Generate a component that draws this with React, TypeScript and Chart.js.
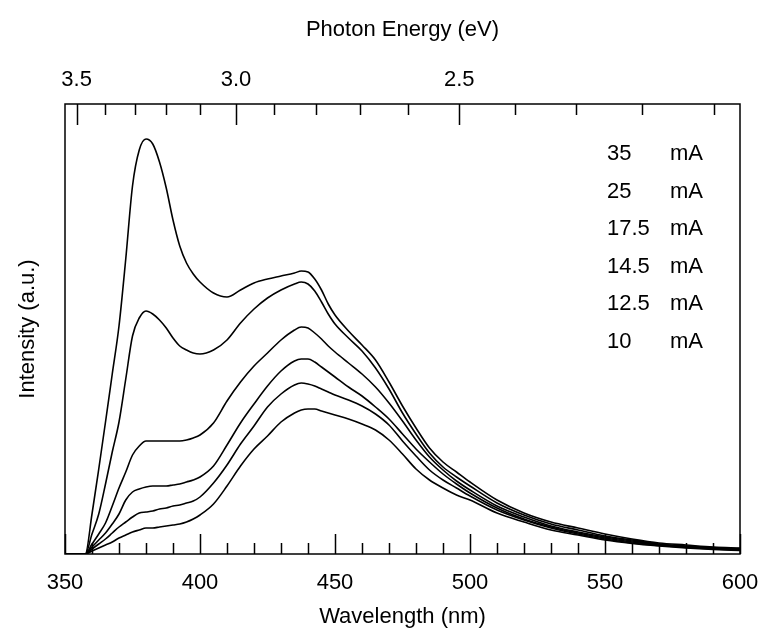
import React, { useEffect, useRef } from 'react';
import { Chart, registerables } from 'chart.js';

Chart.register(...registerables);

// Wavelength grid (nm)
const wavelengths = [
  350, 357.5, 360, 362.5, 365, 367.5, 370, 372.5, 375, 377.5,
  380, 382.5, 385, 387.5, 390, 392.5, 395, 397.5, 400, 405,
  410, 415, 420, 425, 430, 435, 437.5, 440, 442.5, 445,
  447.5, 450, 455, 460, 465, 470, 475, 480, 485, 490,
  495, 500, 510, 520, 530, 540, 550, 560, 570, 580,
  590, 600,
];

// Drive currents (legend)
const currents = ['35', '25', '17.5', '14.5', '12.5', '10'];
const unit = 'mA';

// Intensity (a.u.) for each current
const i35 = [
  0, 0, 40, 85, 132, 180, 228, 295, 368, 404,
  415, 410, 392, 366, 334, 308, 291, 280, 272, 261,
  257, 264, 271, 275, 278, 281, 283, 282, 275, 264,
  250, 239, 223, 209, 194, 172, 148, 126, 106, 92,
  82, 72, 54, 41, 32, 26, 20, 15, 11, 9,
  7, 6,
];
const i25 = [
  0, 0, 20, 40, 70, 102, 132, 175, 218, 236,
  243, 240, 234, 226, 216, 208, 204, 201, 200, 204,
  214, 231, 245, 256, 264, 270, 272, 270, 263, 252,
  240, 230, 216, 203, 186, 165, 141, 120, 101, 87,
  77, 68, 51, 39, 30, 24, 18, 14, 10, 8,
  6.5, 5.5,
];
const i175 = [
  0, 0, 10, 20, 31, 48, 66, 82, 99, 108,
  113, 113, 113, 113, 113, 113, 114, 116, 119, 131,
  153, 172, 188, 201, 214, 224, 227, 226, 221, 215,
  208, 202, 191, 180, 167, 151, 133, 114, 97, 84,
  73, 64, 48, 37, 28, 22, 17, 13, 9.5, 7.5,
  6, 5,
];
const i145 = [
  0, 0, 7, 14, 21, 30, 40, 54, 62, 65,
  67, 68, 68, 68, 69, 70, 72, 74, 77, 88,
  109, 131, 150, 168, 183, 193, 195, 195, 192, 187,
  182, 177, 167, 158, 147, 135, 120, 105, 92, 80,
  70, 61, 46, 35, 27, 21, 16, 12, 9, 7,
  5.5, 4.5,
];
const i125 = [
  0, 0, 5, 10, 15, 21, 27, 32, 37, 41,
  42, 43, 45, 46, 48, 49, 51, 53, 57, 71,
  89, 110, 128, 147, 160, 169, 171, 170, 168, 165,
  162, 159, 154, 148, 140, 129, 113, 98, 84, 74,
  66, 58, 44, 34, 26, 20, 15, 11, 8.5, 6.5,
  5, 4,
];
const i10 = [
  0, 0, 3, 6, 9, 12, 16, 19, 22, 24,
  26, 26, 27, 28, 29, 30, 32, 35, 39, 50,
  68, 88, 105, 118, 132, 141, 144, 145, 145, 143,
  141, 139, 135, 130, 124, 114, 100, 85, 74, 66,
  59, 54, 41, 32, 24, 19, 14, 10.5, 8, 6,
  4.5, 3.5,
];
const seriesValues = [i35, i25, i175, i145, i125, i10];

// Axis ticks
const wavelengthTicks = [350, 400, 450, 500, 550, 600];
const energyMajor = [3.5, 3.0, 2.5];
const energyMinor = [3.4, 3.3, 3.2, 3.1, 2.9, 2.8, 2.7, 2.6, 2.4, 2.3, 2.2, 2.1];
const HC = 1240; // eV·nm

const FONT = "'Liberation Sans', Arial, sans-serif";
const FS = 22;

const framePlugin = {
  id: 'frameTicks',
  afterDraw(chart: any) {
    const { ctx, chartArea } = chart;
    const { left, right, top, bottom } = chartArea;
    const x = chart.scales.x;
    ctx.save();
    ctx.strokeStyle = '#000';
    ctx.lineWidth = 1.5;
    ctx.strokeRect(left, top, right - left, bottom - top);
    ctx.beginPath();
    for (let nm = 350; nm <= 600; nm += 10) {
      const px = Math.round(x.getPixelForValue(nm)) + 0.5;
      const len = nm % 50 === 0 ? 20 : 11;
      ctx.moveTo(px, bottom);
      ctx.lineTo(px, bottom - len);
    }
    energyMajor.forEach((e) => {
      const px = Math.round(x.getPixelForValue(HC / e)) + 0.5;
      ctx.moveTo(px, top);
      ctx.lineTo(px, top + 21);
    });
    energyMinor.forEach((e) => {
      const px = Math.round(x.getPixelForValue(HC / e)) + 0.5;
      ctx.moveTo(px, top);
      ctx.lineTo(px, top + 11);
    });
    ctx.stroke();

    // legend text
    ctx.fillStyle = '#000';
    ctx.font = `${FS}px ${FONT}`;
    ctx.textBaseline = 'middle';
    ctx.textAlign = 'left';
    currents.forEach((c, i) => {
      const y = top + 50 + i * 37.5;
      ctx.fillText(c, right - 133, y);
      ctx.fillText(unit, right - 70, y);
    });
    ctx.restore();
  },
};

export default function App() {
  const ref = useRef<HTMLCanvasElement>(null);
  useEffect(() => {
    if (!ref.current) return;
    Chart.defaults.font.family = FONT;
    Chart.defaults.font.size = FS;
    Chart.defaults.color = '#000';
    const datasets = seriesValues.map((vals, si) => ({
      label: `${currents[si]} ${unit}`,
      data: wavelengths.map((w, i) => ({ x: w, y: vals[i] })),
      borderColor: '#000',
      borderWidth: 1.6,
      pointRadius: 0,
      fill: false,
      cubicInterpolationMode: 'monotone' as const,
      xAxisID: 'x',
      yAxisID: 'y',
    }));
    const chart = new Chart(ref.current, {
      type: 'line',
      data: { datasets },
      options: {
        animation: false,
        responsive: false,
        layout: { padding: { left: 0, right: 22, top: 0, bottom: 0 } },
        plugins: { legend: { display: false }, tooltip: { enabled: false } },
        scales: {
          x: {
            type: 'linear',
            position: 'bottom',
            min: 350,
            max: 600,
            afterBuildTicks: (s: any) => {
              s.ticks = wavelengthTicks.map((v) => ({ value: v }));
            },
            ticks: { padding: 16, autoSkip: false, maxRotation: 0, font: { size: FS } },
            grid: { display: false, drawTicks: false },
            border: { display: false },
            title: { display: true, text: 'Wavelength (nm)', font: { size: FS }, padding: { top: 0, bottom: 12 } },
            afterFit: (s: any) => { s.height = 88; s.paddingLeft = 0; s.paddingRight = 0; },
          },
          x2: {
            type: 'linear',
            position: 'top',
            min: 350,
            max: 600,
            afterBuildTicks: (s: any) => {
              s.ticks = energyMajor.map((e) => ({ value: HC / e }));
            },
            ticks: {
              padding: 11,
              autoSkip: false,
              maxRotation: 0,
              font: { size: FS },
              callback: (v: any) => (HC / Number(v)).toFixed(1),
            },
            grid: { display: false, drawTicks: false },
            border: { display: false },
            title: { display: true, text: 'Photon Energy (eV)', font: { size: FS }, padding: { top: 17, bottom: 0 } },
            afterFit: (s: any) => { s.height = 104; s.paddingLeft = 0; s.paddingRight = 0; },
          },
          y: {
            type: 'linear',
            position: 'left',
            min: 0,
            max: 450,
            ticks: { display: false },
            grid: { display: false, drawTicks: false },
            border: { display: false },
            title: { display: true, text: 'Intensity (a.u.)', font: { size: FS }, padding: { top: 15, bottom: 0 } },
            afterFit: (s: any) => { s.width = 65; s.paddingTop = 0; s.paddingBottom = 0; },
          },
        },
      },
      plugins: [framePlugin],
    });
    return () => chart.destroy();
  }, []);
  return (
    <div style={{ position: 'absolute', left: 0, top: 0, width: 762, height: 642, background: '#fff' }}>
      <canvas ref={ref} width={762} height={642} style={{ display: 'block' }} />
    </div>
  );
}
